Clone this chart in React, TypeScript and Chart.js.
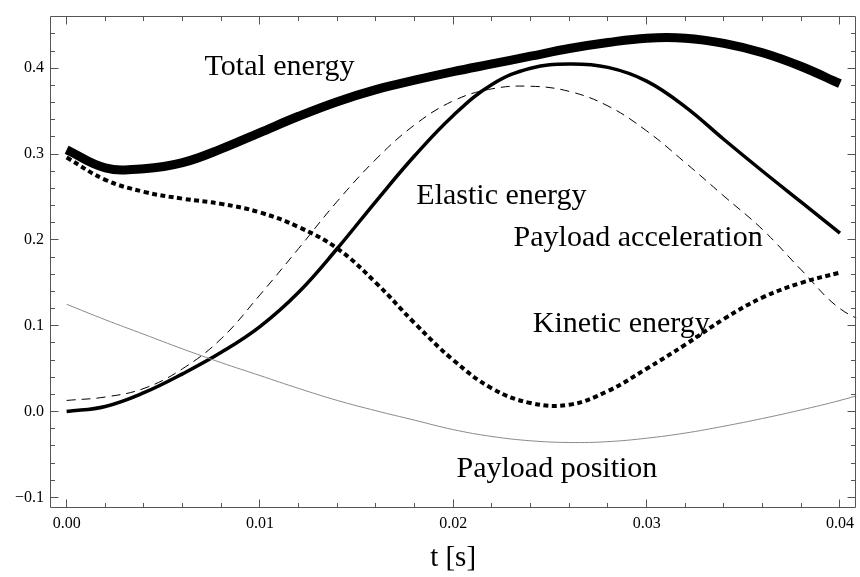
import React, { useEffect, useRef } from "react";
import { Chart, registerables } from "chart.js";

Chart.register(...registerables);

// time samples [s]
const tValues = [0, 0.002, 0.004, 0.006, 0.008, 0.01, 0.012, 0.014, 0.016, 0.018, 0.02, 0.022, 0.024, 0.026, 0.028, 0.03, 0.032, 0.034, 0.036, 0.038, 0.04];
// the payload curves run on to the right edge of the frame
const tValuesPayload = [0, 0.002, 0.004, 0.006, 0.008, 0.01, 0.012, 0.014, 0.016, 0.018, 0.02, 0.022, 0.024, 0.026, 0.028, 0.03, 0.032, 0.034, 0.036, 0.038, 0.04, 0.042];

const totalEnergy = [0.305, 0.284, 0.283, 0.290, 0.306, 0.325, 0.344, 0.361, 0.375, 0.386, 0.396, 0.405, 0.414, 0.423, 0.430, 0.435, 0.435, 0.429, 0.418, 0.402, 0.382];
const elasticEnergy = [0.0, 0.006, 0.022, 0.044, 0.069, 0.099, 0.139, 0.19, 0.245, 0.298, 0.345, 0.381, 0.4, 0.405, 0.401, 0.385, 0.355, 0.317, 0.28, 0.244, 0.208];
const kineticEnergy = [0.296, 0.270, 0.256, 0.248, 0.242, 0.232, 0.215, 0.190, 0.150, 0.103, 0.060, 0.027, 0.010, 0.008, 0.024, 0.050, 0.078, 0.108, 0.133, 0.150, 0.162];
const payloadAcceleration = [0.013, 0.017, 0.027, 0.050, 0.085, 0.136, 0.190, 0.245, 0.294, 0.334, 0.362, 0.376, 0.379, 0.373, 0.356, 0.327, 0.290, 0.251, 0.212, 0.165, 0.120, 0.098];
const payloadPosition = [0.125, 0.107, 0.090, 0.073, 0.057, 0.042, 0.027, 0.013, 0.001, -0.010, -0.021, -0.029, -0.034, -0.036, -0.035, -0.031, -0.025, -0.017, -0.008, 0.002, 0.013, 0.026];

// axes
const xMin = -0.00086;
const xMax = 0.04084;
const yMin = -0.1123;
const yMax = 0.4613;
const xTickValues = [0, 0.01, 0.02, 0.03, 0.04];
const yTickValues = [-0.1, 0, 0.1, 0.2, 0.3, 0.4];
const xMinorStep = 0.002;
const yMinorStep = 0.02;
const xTitle = "t [s]";

// curve annotations (anchor in data units: centre x, baseline y)
const annotationTexts = ["Total energy", "Elastic energy", "Payload acceleration", "Kinetic energy", "Payload position"];
const annotationT = [0.01101, 0.02249, 0.02956, 0.02869, 0.02536];
const annotationV = [0.392, 0.2417, 0.1926, 0.0923, -0.0767];

const SERIF = '"Liberation Serif", "Times New Roman", serif';

const toPoints = (ts: number[], ys: number[]) => ts.map((t, i) => ({ x: t, y: ys[i] }));

const framePlugin = {
  id: "mmaFrame",
  afterDraw(chart: any) {
    const { ctx, chartArea: a, scales } = chart;
    const xs = scales.x;
    const ys = scales.y;
    const L = Math.round(a.left) + 0.5;
    const R = Math.round(a.right) - 0.5;
    const T = Math.round(a.top) + 0.5;
    const B = Math.round(a.bottom) - 0.5;
    ctx.save();
    ctx.strokeStyle = "#555555";
    ctx.lineWidth = 1;
    ctx.beginPath();
    ctx.rect(L, T, R - L, B - T);
    ctx.stroke();

    const major = 8;
    const minor = 4.5;
    ctx.beginPath();
    const nx = Math.round((xMax - xMin) / xMinorStep) + 2;
    for (let k = -1; k <= nx; k++) {
      const v = Math.round(k * xMinorStep * 1e6) / 1e6;
      if (v < xMin || v > xMax) continue;
      const px = Math.floor(xs.getPixelForValue(v)) + 0.5;
      if (px < L + 2 || px > R - 2) continue;
      const isMajor = xTickValues.some((m) => Math.abs(m - v) < 1e-9);
      const len = isMajor ? major : minor;
      ctx.moveTo(px, B);
      ctx.lineTo(px, B - len);
      ctx.moveTo(px, T);
      ctx.lineTo(px, T + len);
    }
    const ny = Math.round((yMax - yMin) / yMinorStep) + 2;
    for (let k = -ny; k <= ny; k++) {
      const v = Math.round(k * yMinorStep * 1e6) / 1e6;
      if (v < yMin || v > yMax) continue;
      const py = Math.floor(ys.getPixelForValue(v)) + 0.5;
      if (py < T + 2 || py > B - 2) continue;
      const isMajor = yTickValues.some((m) => Math.abs(m - v) < 1e-9);
      const len = isMajor ? major : minor;
      ctx.moveTo(L, py);
      ctx.lineTo(L + len, py);
      ctx.moveTo(R, py);
      ctx.lineTo(R - len, py);
    }
    ctx.stroke();
    ctx.restore();
  },
};

const annotationPlugin = {
  id: "curveLabels",
  afterDatasetsDraw(chart: any) {
    const { ctx, scales } = chart;
    ctx.save();
    ctx.fillStyle = "#000000";
    ctx.font = `30px ${SERIF}`;
    ctx.textAlign = "center";
    ctx.textBaseline = "alphabetic";
    annotationTexts.forEach((txt, i) => {
      const px = scales.x.getPixelForValue(annotationT[i]);
      const py = scales.y.getPixelForValue(annotationV[i]);
      ctx.fillText(txt, px, py);
    });
    ctx.restore();
  },
};

export default function App() {
  const canvasRef = useRef<HTMLCanvasElement | null>(null);

  useEffect(() => {
    const canvas = canvasRef.current;
    if (!canvas) return;
    const common = { pointRadius: 0, tension: 0.4, fill: false };
    const chart = new Chart(canvas, {
      type: "line",
      data: {
        datasets: [
          {
            ...common,
            label: "Payload position",
            data: toPoints(tValuesPayload, payloadPosition),
            borderColor: "#8a8a8a",
            borderWidth: 1,
          },
          {
            ...common,
            label: "Payload acceleration",
            data: toPoints(tValuesPayload, payloadAcceleration),
            borderColor: "#000000",
            borderWidth: 1,
            borderDash: [9, 6],
          },
          {
            ...common,
            label: "Kinetic energy",
            data: toPoints(tValues, kineticEnergy),
            borderColor: "#000000",
            borderWidth: 4,
            borderDash: [5, 3.5],
            borderCapStyle: "butt",
          },
          {
            ...common,
            label: "Elastic energy",
            data: toPoints(tValues, elasticEnergy),
            borderColor: "#000000",
            borderWidth: 3.5,
          },
          {
            ...common,
            label: "Total energy",
            data: toPoints(tValues, totalEnergy),
            borderColor: "#000000",
            borderWidth: 9,
            borderCapStyle: "butt",
            borderJoinStyle: "round",
          },
        ],
      },
      options: {
        animation: false,
        responsive: false,
        maintainAspectRatio: false,
        devicePixelRatio: 1,
        layout: { padding: { left: 0, top: 9, right: 2, bottom: 0 } },
        plugins: { legend: { display: false }, tooltip: { enabled: false } },
        scales: {
          x: {
            type: "linear",
            min: xMin,
            max: xMax,
            grid: { display: false, drawTicks: false },
            border: { display: false },
            afterBuildTicks: (scale: any) => {
              scale.ticks = xTickValues.map((v) => ({ value: v }));
            },
            afterFit: (scale: any) => {
              scale.height = 69;
            },
            ticks: {
              padding: 6,
              color: "#000000",
              maxRotation: 0,
              autoSkip: false,
              font: { family: SERIF, size: 16 },
              callback: (v: any) => Number(v).toFixed(2),
            },
            title: {
              display: true,
              text: xTitle,
              color: "#000000",
              font: { family: SERIF, size: 29 },
              padding: { top: 0, bottom: 1 },
            },
          },
          y: {
            type: "linear",
            min: yMin,
            max: yMax,
            grid: { display: false, drawTicks: false },
            border: { display: false },
            afterBuildTicks: (scale: any) => {
              scale.ticks = yTickValues.map((v) => ({ value: v }));
            },
            afterFit: (scale: any) => {
              scale.width = 50;
            },
            ticks: {
              padding: 6,
              color: "#000000",
              autoSkip: false,
              font: { family: SERIF, size: 16 },
              callback: (v: any) => {
                const n = Number(v);
                const s = Math.abs(n).toFixed(1);
                return n < -1e-9 ? "\u2212" + s : s;
              },
            },
          },
        },
      },
      plugins: [framePlugin, annotationPlugin],
    } as any);
    return () => chart.destroy();
  }, []);

  return (
    <div style={{ position: "absolute", left: 0, top: 0, width: 860, height: 577, background: "#ffffff" }}>
      <canvas ref={canvasRef} width={860} height={577} style={{ width: 860, height: 577, display: "block" }} />
    </div>
  );
}
